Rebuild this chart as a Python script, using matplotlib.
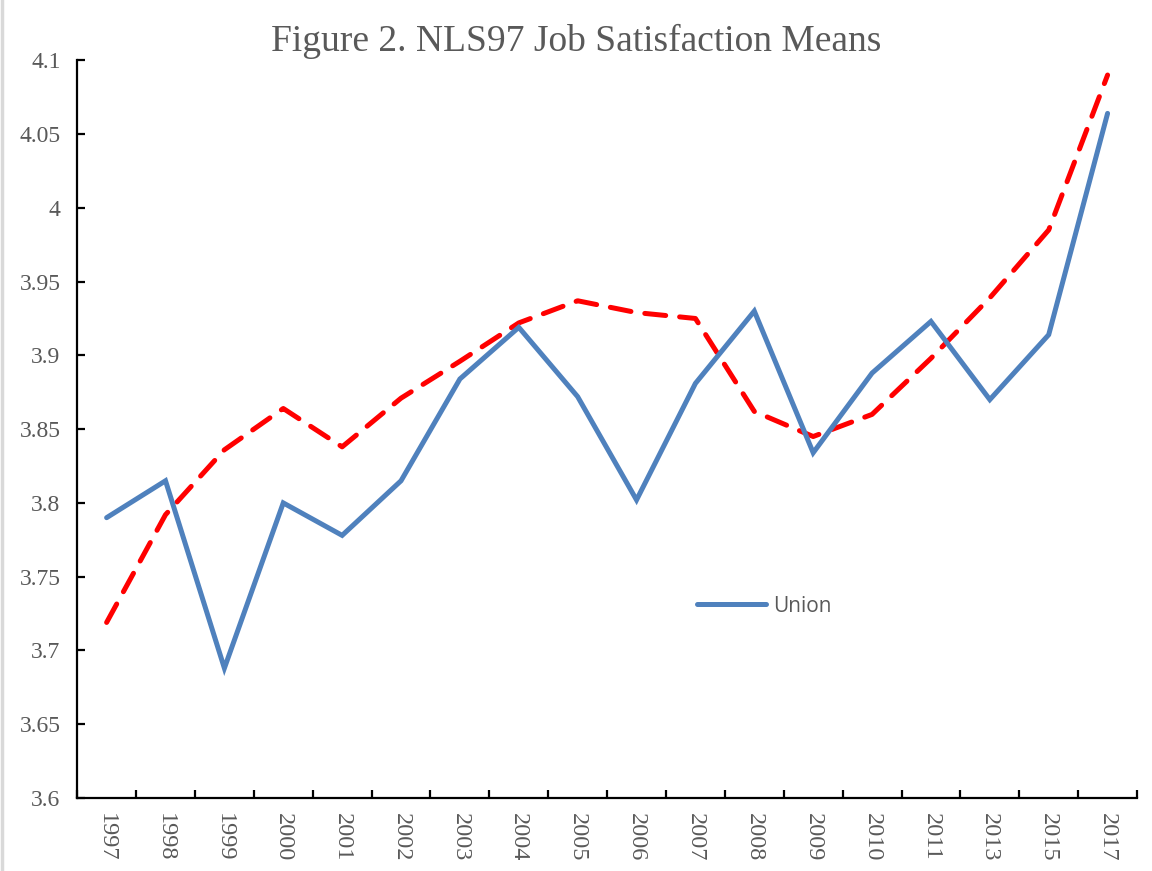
import matplotlib.pyplot as plt
from matplotlib.lines import Line2D
import numpy as np

# Datos
years = ["1997", "1998", "1999", "2000", "2001", "2002", "2003", "2004", "2005",
         "2006", "2007", "2008", "2009", "2010", "2011", "2013", "2015", "2017"]
union = [3.790, 3.815, 3.688, 3.800, 3.778, 3.815, 3.884, 3.919, 3.872,
         3.802, 3.881, 3.930, 3.834, 3.888, 3.923, 3.870, 3.914, 4.064]
nonunion = [3.719, 3.792, 3.836, 3.864, 3.838, 3.871, 3.896, 3.922, 3.937,
            3.929, 3.925, 3.862, 3.845, 3.860, 3.898, 3.939, 3.985, 4.090]

gray = "#595959"
serif = ["Liberation Serif", "DejaVu Serif"]

fig = plt.figure(figsize=(11.52, 8.71), dpi=100)
ax = fig.add_axes([0.067, 0.0838, 0.92, 0.847])

x = np.arange(len(years))
ax.plot(x, union, color="#4F81BD", lw=3.6, solid_capstyle="round",
        solid_joinstyle="miter", label="Union", zorder=3)
ax.plot(x, nonunion, color="#FF0000", lw=3.6, dashes=(4.2, 2.8),
        dash_capstyle="round", label="_nolegend_", zorder=2)

ax.set_xlim(-0.5, len(years) - 0.5)
ax.set_ylim(3.6, 4.1)

# Ejes
for s in ["top", "right"]:
    ax.spines[s].set_visible(False)
for s in ["left", "bottom"]:
    ax.spines[s].set_linewidth(1.6)
    ax.spines[s].set_color("black")

ax.set_yticks(np.arange(3.6, 4.1001, 0.05))
ax.set_yticklabels(["3.6", "3.65", "3.7", "3.75", "3.8", "3.85", "3.9", "3.95",
                    "4", "4.05", "4.1"], family=serif, fontsize=17, color=gray)
ax.tick_params(axis="y", direction="in", length=6, width=1.6, pad=12)

# marcas entre categorías, etiquetas en el centro
ax.set_xticks(np.arange(-0.5, len(years), 1.0))
ax.set_xticklabels([])
ax.tick_params(axis="x", which="major", direction="in", length=6, width=1.6)
ax.set_xticks(x, minor=True)
ax.set_xticklabels(years, minor=True, rotation=270, family=serif,
                   fontsize=17.5, color=gray)
ax.tick_params(axis="x", which="minor", length=0, pad=11)

# título centrado en la figura
fig.text(0.5, 0.952, "Figure 2. NLS97 Job Satisfaction Means", family=serif,
         fontsize=27, color=gray, ha="center", va="center")

ax.legend(loc="center left", bbox_to_anchor=(0.5675, 0.26), frameon=False,
          handlelength=3.3, handletextpad=0.35,
          prop={"family": "Open Sans", "size": 15}, labelcolor=gray)

# borde gris a la izquierda
fig.add_artist(Line2D([0.0015, 0.0015], [0, 1], color="#d9d9d9", lw=2.5,
                      transform=fig.transFigure))

plt.savefig("out.png", dpi=100)
